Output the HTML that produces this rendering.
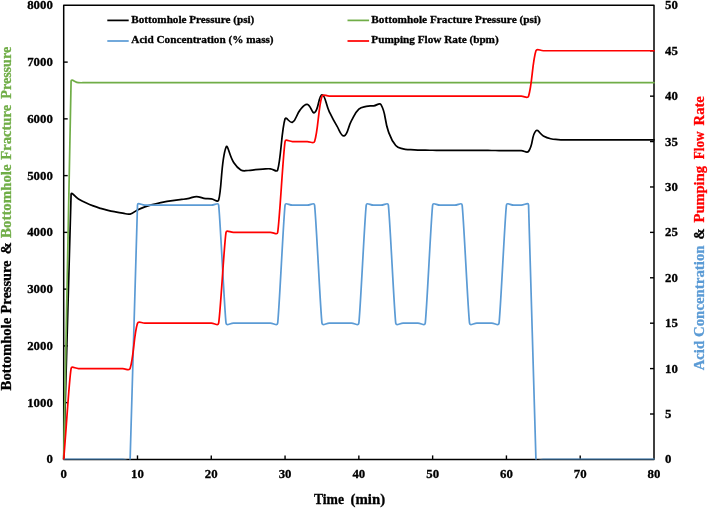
<!DOCTYPE html>
<html lang="en"><head><meta charset="utf-8"><title>Bottomhole Pressure Chart</title>
<style>html,body{margin:0;padding:0;background:#fff;}body{width:708px;height:508px;overflow:hidden;}svg{display:block;}text{font-family:'Liberation Serif', serif;font-weight:bold;fill:#000;stroke:#000;stroke-width:0.3px;}</style></head><body>
<svg width="708" height="508" viewBox="0 0 708 508">
<rect x="0" y="0" width="708" height="508" fill="#fff"/>
<g stroke="#000" stroke-width="1.50" fill="none" stroke-linejoin="round">
<rect x="63.70" y="5.35" width="590.30" height="454.05"/>
</g>
<g stroke="#000" stroke-width="1.4" fill="none">
<line x1="63.70" y1="402.64" x2="67.70" y2="402.64"/>
<line x1="63.70" y1="345.89" x2="67.70" y2="345.89"/>
<line x1="63.70" y1="289.13" x2="67.70" y2="289.13"/>
<line x1="63.70" y1="232.38" x2="67.70" y2="232.38"/>
<line x1="63.70" y1="175.62" x2="67.70" y2="175.62"/>
<line x1="63.70" y1="118.86" x2="67.70" y2="118.86"/>
<line x1="63.70" y1="62.11" x2="67.70" y2="62.11"/>
<line x1="650.00" y1="414.00" x2="654.00" y2="414.00"/>
<line x1="650.00" y1="368.59" x2="654.00" y2="368.59"/>
<line x1="650.00" y1="323.19" x2="654.00" y2="323.19"/>
<line x1="650.00" y1="277.78" x2="654.00" y2="277.78"/>
<line x1="650.00" y1="232.38" x2="654.00" y2="232.38"/>
<line x1="650.00" y1="186.97" x2="654.00" y2="186.97"/>
<line x1="650.00" y1="141.56" x2="654.00" y2="141.56"/>
<line x1="650.00" y1="96.16" x2="654.00" y2="96.16"/>
<line x1="650.00" y1="50.76" x2="654.00" y2="50.76"/>
<line x1="137.49" y1="455.40" x2="137.49" y2="459.40"/>
<line x1="211.27" y1="455.40" x2="211.27" y2="459.40"/>
<line x1="285.06" y1="455.40" x2="285.06" y2="459.40"/>
<line x1="358.85" y1="455.40" x2="358.85" y2="459.40"/>
<line x1="432.64" y1="455.40" x2="432.64" y2="459.40"/>
<line x1="506.43" y1="455.40" x2="506.43" y2="459.40"/>
<line x1="580.21" y1="455.40" x2="580.21" y2="459.40"/>
</g>
<defs><clipPath id="plotclip"><rect x="60.70" y="2.35" width="596.30" height="457.20"/></clipPath></defs>
<g fill="none" stroke-width="1.72" stroke-linejoin="round" stroke-linecap="round" clip-path="url(#plotclip)">
<path stroke="#000000" d="M63.70,459.40C67.02,340.18 70.24,209.30 71.08,194.46C71.29,190.75 75.07,197.08 78.46,199.00C81.71,200.84 82.46,201.22 85.84,202.80C89.10,204.34 89.84,204.66 93.22,205.93C96.48,207.16 97.25,207.36 100.59,208.37C103.89,209.35 104.63,209.56 107.97,210.35C111.27,211.14 112.02,211.26 115.35,211.89C118.66,212.51 119.40,212.65 122.73,213.13C126.04,213.62 127.00,214.71 130.11,214.04C133.64,213.28 134.08,211.62 137.49,209.96C140.72,208.38 141.48,208.07 144.87,206.83C148.13,205.64 148.89,205.47 152.25,204.56C155.53,203.68 156.29,203.57 159.62,202.86C162.93,202.16 163.67,202.02 167.00,201.44C170.31,200.87 171.05,200.76 174.38,200.31C177.69,199.86 178.45,199.90 181.76,199.46C185.09,199.01 185.84,198.96 189.14,198.32C192.48,197.68 193.20,196.62 196.52,196.62C199.84,196.62 200.54,197.80 203.90,198.32C207.18,198.83 207.97,198.51 211.27,198.89C214.61,199.27 217.84,202.88 218.65,200.02C221.92,188.60 220.96,160.31 226.03,147.24C227.60,143.20 229.40,155.83 233.41,162.00C236.04,166.05 236.84,167.67 240.79,169.94C243.48,171.50 244.85,170.57 248.17,170.51C251.50,170.45 252.22,169.98 255.55,169.66C258.86,169.34 259.60,169.28 262.93,169.09C266.24,168.90 267.00,168.62 270.30,168.81C273.64,169.00 276.84,172.78 277.68,169.94C281.04,158.58 281.45,130.54 285.06,118.86C285.97,115.94 290.00,123.67 292.44,122.27C296.65,119.84 295.86,115.15 299.82,110.35C302.50,107.10 304.13,103.92 307.20,104.39C310.77,104.94 312.16,114.20 314.58,112.62C318.80,109.86 318.57,94.94 321.96,94.74C325.21,94.55 325.74,104.24 329.33,111.77C332.38,118.16 333.03,119.64 336.71,125.67C339.67,130.50 341.27,136.87 344.09,135.89C347.91,134.57 347.77,127.25 351.47,120.57C354.41,115.24 354.66,113.25 358.85,109.21C361.30,106.86 362.80,107.17 366.23,106.38C369.44,105.64 370.30,106.19 373.61,105.81C376.94,105.42 379.58,102.23 380.99,104.67C386.22,113.73 384.16,119.69 388.36,131.35C390.80,138.08 391.34,140.29 395.74,145.54C397.98,148.21 399.65,147.98 403.12,148.94C406.29,149.82 407.18,149.37 410.50,149.62C413.82,149.88 414.56,149.94 417.88,150.08C421.20,150.21 421.94,150.18 425.26,150.22C428.58,150.26 429.32,150.24 432.64,150.25C435.96,150.27 436.70,150.27 440.02,150.28C443.34,150.30 444.07,150.30 447.39,150.31C450.72,150.33 451.45,150.33 454.77,150.34C458.09,150.36 458.83,150.36 462.15,150.37C465.47,150.39 466.21,150.39 469.53,150.40C472.85,150.42 473.59,150.42 476.91,150.43C480.23,150.45 480.97,150.45 484.29,150.46C487.61,150.48 488.35,150.48 491.67,150.49C494.99,150.51 495.73,150.51 499.05,150.52C502.37,150.54 503.10,150.54 506.43,150.56C509.75,150.57 510.48,150.57 513.80,150.59C517.12,150.60 517.87,150.44 521.18,150.62C524.51,150.80 526.88,153.64 528.56,151.38C533.52,144.72 531.23,135.73 535.94,130.78C537.87,128.75 539.79,133.99 543.32,135.89C546.43,137.56 547.27,137.87 550.70,138.73C553.91,139.53 554.75,139.32 558.08,139.58C561.39,139.83 562.13,139.80 565.45,139.86C568.77,139.93 569.51,139.86 572.83,139.86C576.15,139.86 576.89,139.86 580.21,139.86C583.53,139.86 584.27,139.86 587.59,139.86C590.91,139.86 591.65,139.86 594.97,139.86C598.29,139.86 599.03,139.86 602.35,139.86C605.67,139.86 606.41,139.86 609.73,139.86C613.05,139.86 613.79,139.86 617.11,139.86C620.43,139.86 621.16,139.86 624.49,139.86C627.81,139.86 628.54,139.86 631.86,139.86C635.18,139.86 635.92,139.86 639.24,139.86C642.56,139.86 643.30,139.86 646.62,139.86C649.94,139.86 650.68,139.86 654.00,139.86"/>
<path stroke="#70AD47" d="M63.70,459.40C67.02,289.30 70.56,94.57 71.08,81.40C71.21,78.11 75.11,82.37 78.46,82.65C81.75,82.93 82.52,82.65 85.84,82.65C89.16,82.65 89.89,82.65 93.22,82.65C96.54,82.65 97.27,82.65 100.59,82.65C103.91,82.65 104.65,82.65 107.97,82.65C111.29,82.65 112.03,82.65 115.35,82.65C118.67,82.65 119.41,82.65 122.73,82.65C126.05,82.65 126.79,82.65 130.11,82.65C133.43,82.65 134.17,82.65 137.49,82.65C140.81,82.65 141.55,82.65 144.87,82.65C148.19,82.65 148.92,82.65 152.25,82.65C155.57,82.65 156.30,82.65 159.62,82.65C162.94,82.65 163.68,82.65 167.00,82.65C170.32,82.65 171.06,82.65 174.38,82.65C177.70,82.65 178.44,82.65 181.76,82.65C185.08,82.65 185.82,82.65 189.14,82.65C192.46,82.65 193.20,82.65 196.52,82.65C199.84,82.65 200.58,82.65 203.90,82.65C207.22,82.65 207.95,82.65 211.27,82.65C214.60,82.65 215.33,82.65 218.65,82.65C221.97,82.65 222.71,82.65 226.03,82.65C229.35,82.65 230.09,82.65 233.41,82.65C236.73,82.65 237.47,82.65 240.79,82.65C244.11,82.65 244.85,82.65 248.17,82.65C251.49,82.65 252.23,82.65 255.55,82.65C258.87,82.65 259.61,82.65 262.93,82.65C266.25,82.65 266.98,82.65 270.30,82.65C273.63,82.65 274.36,82.65 277.68,82.65C281.00,82.65 281.74,82.65 285.06,82.65C288.38,82.65 289.12,82.65 292.44,82.65C295.76,82.65 296.50,82.65 299.82,82.65C303.14,82.65 303.88,82.65 307.20,82.65C310.52,82.65 311.26,82.65 314.58,82.65C317.90,82.65 318.64,82.65 321.96,82.65C325.28,82.65 326.01,82.65 329.33,82.65C332.66,82.65 333.39,82.65 336.71,82.65C340.03,82.65 340.77,82.65 344.09,82.65C347.41,82.65 348.15,82.65 351.47,82.65C354.79,82.65 355.53,82.65 358.85,82.65C362.17,82.65 362.91,82.65 366.23,82.65C369.55,82.65 370.29,82.65 373.61,82.65C376.93,82.65 377.67,82.65 380.99,82.65C384.31,82.65 385.04,82.65 388.36,82.65C391.69,82.65 392.42,82.65 395.74,82.65C399.06,82.65 399.80,82.65 403.12,82.65C406.44,82.65 407.18,82.65 410.50,82.65C413.82,82.65 414.56,82.65 417.88,82.65C421.20,82.65 421.94,82.65 425.26,82.65C428.58,82.65 429.32,82.65 432.64,82.65C435.96,82.65 436.70,82.65 440.02,82.65C443.34,82.65 444.07,82.65 447.39,82.65C450.72,82.65 451.45,82.65 454.77,82.65C458.09,82.65 458.83,82.65 462.15,82.65C465.47,82.65 466.21,82.65 469.53,82.65C472.85,82.65 473.59,82.65 476.91,82.65C480.23,82.65 480.97,82.65 484.29,82.65C487.61,82.65 488.35,82.65 491.67,82.65C494.99,82.65 495.73,82.65 499.05,82.65C502.37,82.65 503.10,82.65 506.43,82.65C509.75,82.65 510.48,82.65 513.80,82.65C517.12,82.65 517.86,82.65 521.18,82.65C524.50,82.65 525.24,82.65 528.56,82.65C531.88,82.65 532.62,82.65 535.94,82.65C539.26,82.65 540.00,82.65 543.32,82.65C546.64,82.65 547.38,82.65 550.70,82.65C554.02,82.65 554.76,82.65 558.08,82.65C561.40,82.65 562.13,82.65 565.45,82.65C568.78,82.65 569.51,82.65 572.83,82.65C576.15,82.65 576.89,82.65 580.21,82.65C583.53,82.65 584.27,82.65 587.59,82.65C590.91,82.65 591.65,82.65 594.97,82.65C598.29,82.65 599.03,82.65 602.35,82.65C605.67,82.65 606.41,82.65 609.73,82.65C613.05,82.65 613.79,82.65 617.11,82.65C620.43,82.65 621.16,82.65 624.49,82.65C627.81,82.65 628.54,82.65 631.86,82.65C635.18,82.65 635.92,82.65 639.24,82.65C642.56,82.65 643.30,82.65 646.62,82.65C649.94,82.65 650.68,82.65 654.00,82.65"/>
<path stroke="#5B9BD5" d="M63.70,459.40C67.02,459.40 67.76,459.40 71.08,459.40C74.40,459.40 75.14,459.40 78.46,459.40C81.78,459.40 82.52,459.40 85.84,459.40C89.16,459.40 89.89,459.40 93.22,459.40C96.54,459.40 97.27,459.40 100.59,459.40C103.91,459.40 104.65,459.40 107.97,459.40C111.29,459.40 112.03,459.40 115.35,459.40C118.67,459.40 119.41,459.40 122.73,459.40C126.05,459.40 129.92,462.63 130.11,459.40C130.86,446.50 136.74,218.03 137.49,205.13C137.67,201.91 141.55,205.13 144.87,205.13C148.19,205.13 148.92,205.13 152.25,205.13C155.57,205.13 156.30,205.13 159.62,205.13C162.94,205.13 163.68,205.13 167.00,205.13C170.32,205.13 171.06,205.13 174.38,205.13C177.70,205.13 178.44,205.13 181.76,205.13C185.08,205.13 185.82,205.13 189.14,205.13C192.46,205.13 193.20,205.13 196.52,205.13C199.84,205.13 200.58,205.13 203.90,205.13C207.22,205.13 207.95,205.13 211.27,205.13C214.60,205.13 218.26,202.01 218.65,205.13C220.21,217.61 224.47,310.71 226.03,323.19C226.42,326.30 230.09,323.19 233.41,323.19C236.73,323.19 237.47,323.19 240.79,323.19C244.11,323.19 244.85,323.19 248.17,323.19C251.49,323.19 252.23,323.19 255.55,323.19C258.87,323.19 259.61,323.19 262.93,323.19C266.25,323.19 266.98,323.19 270.30,323.19C273.63,323.19 277.29,326.30 277.68,323.19C279.24,310.71 283.50,217.61 285.06,205.13C285.45,202.01 289.12,205.13 292.44,205.13C295.76,205.13 296.50,205.13 299.82,205.13C303.14,205.13 303.88,205.13 307.20,205.13C310.52,205.13 314.19,202.01 314.58,205.13C316.14,217.61 320.40,310.71 321.96,323.19C322.35,326.30 326.01,323.19 329.33,323.19C332.66,323.19 333.39,323.19 336.71,323.19C340.03,323.19 340.77,323.19 344.09,323.19C347.41,323.19 348.15,323.19 351.47,323.19C354.79,323.19 358.46,326.30 358.85,323.19C360.41,310.71 364.67,217.61 366.23,205.13C366.62,202.01 370.29,205.13 373.61,205.13C376.93,205.13 377.67,205.13 380.99,205.13C384.31,205.13 387.98,202.01 388.36,205.13C389.92,217.61 394.18,310.71 395.74,323.19C396.13,326.30 399.80,323.19 403.12,323.19C406.44,323.19 407.18,323.19 410.50,323.19C413.82,323.19 414.56,323.19 417.88,323.19C421.20,323.19 424.87,326.30 425.26,323.19C426.82,310.71 431.08,217.61 432.64,205.13C433.03,202.01 436.70,205.13 440.02,205.13C443.34,205.13 444.07,205.13 447.39,205.13C450.72,205.13 451.45,205.13 454.77,205.13C458.09,205.13 461.76,202.01 462.15,205.13C463.71,217.61 467.97,310.71 469.53,323.19C469.92,326.30 473.59,323.19 476.91,323.19C480.23,323.19 480.97,323.19 484.29,323.19C487.61,323.19 488.35,323.19 491.67,323.19C494.99,323.19 498.66,326.30 499.05,323.19C500.61,310.71 504.87,217.61 506.43,205.13C506.81,202.01 510.48,205.13 513.80,205.13C517.12,205.13 517.86,205.13 521.18,205.13C524.50,205.13 528.37,201.91 528.56,205.13C529.31,218.03 535.19,446.50 535.94,459.40C536.13,462.63 540.00,459.40 543.32,459.40C546.64,459.40 547.38,459.40 550.70,459.40C554.02,459.40 554.76,459.40 558.08,459.40C561.40,459.40 562.13,459.40 565.45,459.40C568.78,459.40 569.51,459.40 572.83,459.40C576.15,459.40 576.89,459.40 580.21,459.40C583.53,459.40 584.27,459.40 587.59,459.40C590.91,459.40 591.65,459.40 594.97,459.40C598.29,459.40 599.03,459.40 602.35,459.40C605.67,459.40 606.41,459.40 609.73,459.40C613.05,459.40 613.79,459.40 617.11,459.40C620.43,459.40 621.16,459.40 624.49,459.40C627.81,459.40 628.54,459.40 631.86,459.40C635.18,459.40 635.92,459.40 639.24,459.40C642.56,459.40 643.30,459.40 646.62,459.40C649.94,459.40 650.68,459.40 654.00,459.40"/>
<path stroke="#FF0000" d="M63.70,459.40C67.02,418.54 69.09,380.84 71.08,368.59C71.58,365.53 75.14,368.59 78.46,368.59C81.78,368.59 82.52,368.59 85.84,368.59C89.16,368.59 89.89,368.59 93.22,368.59C96.54,368.59 97.27,368.59 100.59,368.59C103.91,368.59 104.65,368.59 107.97,368.59C111.29,368.59 112.03,368.59 115.35,368.59C118.67,368.59 119.41,368.59 122.73,368.59C126.05,368.59 129.19,371.41 130.11,368.59C133.78,357.29 133.82,334.48 137.49,323.19C138.41,320.36 141.55,323.19 144.87,323.19C148.19,323.19 148.92,323.19 152.25,323.19C155.57,323.19 156.30,323.19 159.62,323.19C162.94,323.19 163.68,323.19 167.00,323.19C170.32,323.19 171.06,323.19 174.38,323.19C177.70,323.19 178.44,323.19 181.76,323.19C185.08,323.19 185.82,323.19 189.14,323.19C192.46,323.19 193.20,323.19 196.52,323.19C199.84,323.19 200.58,323.19 203.90,323.19C207.22,323.19 207.95,323.19 211.27,323.19C214.60,323.19 218.16,326.25 218.65,323.19C220.64,310.94 224.04,244.62 226.03,232.38C226.53,229.31 230.09,232.38 233.41,232.38C236.73,232.38 237.47,232.38 240.79,232.38C244.11,232.38 244.85,232.38 248.17,232.38C251.49,232.38 252.23,232.38 255.55,232.38C258.87,232.38 259.61,232.38 262.93,232.38C266.25,232.38 266.98,232.38 270.30,232.38C273.63,232.38 277.19,235.44 277.68,232.38C279.67,220.13 283.07,153.81 285.06,141.56C285.56,138.50 289.12,141.56 292.44,141.56C295.76,141.56 296.50,141.56 299.82,141.56C303.14,141.56 303.88,141.56 307.20,141.56C310.52,141.56 313.66,144.39 314.58,141.56C318.25,130.27 318.28,107.46 321.96,96.16C322.87,93.34 326.01,96.16 329.33,96.16C332.66,96.16 333.39,96.16 336.71,96.16C340.03,96.16 340.77,96.16 344.09,96.16C347.41,96.16 348.15,96.16 351.47,96.16C354.79,96.16 355.53,96.16 358.85,96.16C362.17,96.16 362.91,96.16 366.23,96.16C369.55,96.16 370.29,96.16 373.61,96.16C376.93,96.16 377.67,96.16 380.99,96.16C384.31,96.16 385.04,96.16 388.36,96.16C391.69,96.16 392.42,96.16 395.74,96.16C399.06,96.16 399.80,96.16 403.12,96.16C406.44,96.16 407.18,96.16 410.50,96.16C413.82,96.16 414.56,96.16 417.88,96.16C421.20,96.16 421.94,96.16 425.26,96.16C428.58,96.16 429.32,96.16 432.64,96.16C435.96,96.16 436.70,96.16 440.02,96.16C443.34,96.16 444.07,96.16 447.39,96.16C450.72,96.16 451.45,96.16 454.77,96.16C458.09,96.16 458.83,96.16 462.15,96.16C465.47,96.16 466.21,96.16 469.53,96.16C472.85,96.16 473.59,96.16 476.91,96.16C480.23,96.16 480.97,96.16 484.29,96.16C487.61,96.16 488.35,96.16 491.67,96.16C494.99,96.16 495.73,96.16 499.05,96.16C502.37,96.16 503.10,96.16 506.43,96.16C509.75,96.16 510.48,96.16 513.80,96.16C517.12,96.16 517.86,96.16 521.18,96.16C524.50,96.16 527.64,98.98 528.56,96.16C532.23,84.86 532.27,62.05 535.94,50.76C536.86,47.93 540.00,50.76 543.32,50.76C546.64,50.76 547.38,50.76 550.70,50.76C554.02,50.76 554.76,50.76 558.08,50.76C561.40,50.76 562.13,50.76 565.45,50.76C568.78,50.76 569.51,50.76 572.83,50.76C576.15,50.76 576.89,50.76 580.21,50.76C583.53,50.76 584.27,50.76 587.59,50.76C590.91,50.76 591.65,50.76 594.97,50.76C598.29,50.76 599.03,50.76 602.35,50.76C605.67,50.76 606.41,50.76 609.73,50.76C613.05,50.76 613.79,50.76 617.11,50.76C620.43,50.76 621.16,50.76 624.49,50.76C627.81,50.76 628.54,50.76 631.86,50.76C635.18,50.76 635.92,50.76 639.24,50.76C642.56,50.76 643.30,50.76 646.62,50.76C649.94,50.76 650.68,50.76 654.00,50.76"/>
</g>
<g font-size="12.80">
<text x="52.8" y="463.40" text-anchor="end">0</text>
<text x="52.8" y="406.64" text-anchor="end">1000</text>
<text x="52.8" y="349.89" text-anchor="end">2000</text>
<text x="52.8" y="293.13" text-anchor="end">3000</text>
<text x="52.8" y="236.38" text-anchor="end">4000</text>
<text x="52.8" y="179.62" text-anchor="end">5000</text>
<text x="52.8" y="122.86" text-anchor="end">6000</text>
<text x="52.8" y="66.11" text-anchor="end">7000</text>
<text x="52.8" y="9.35" text-anchor="end">8000</text>
<text x="665" y="463.40" text-anchor="start">0</text>
<text x="665" y="418.00" text-anchor="start">5</text>
<text x="665" y="372.59" text-anchor="start">10</text>
<text x="665" y="327.19" text-anchor="start">15</text>
<text x="665" y="281.78" text-anchor="start">20</text>
<text x="665" y="236.38" text-anchor="start">25</text>
<text x="665" y="190.97" text-anchor="start">30</text>
<text x="665" y="145.56" text-anchor="start">35</text>
<text x="665" y="100.16" text-anchor="start">40</text>
<text x="665" y="54.76" text-anchor="start">45</text>
<text x="665" y="9.35" text-anchor="start">50</text>
<text x="63.70" y="477.7" text-anchor="middle">0</text>
<text x="137.49" y="477.7" text-anchor="middle">10</text>
<text x="211.27" y="477.7" text-anchor="middle">20</text>
<text x="285.06" y="477.7" text-anchor="middle">30</text>
<text x="358.85" y="477.7" text-anchor="middle">40</text>
<text x="432.64" y="477.7" text-anchor="middle">50</text>
<text x="506.43" y="477.7" text-anchor="middle">60</text>
<text x="580.21" y="477.7" text-anchor="middle">70</text>
<text x="654.00" y="477.7" text-anchor="middle">80</text>
</g>
<g stroke-width="1.72" fill="none">
<line x1="107.3" y1="20.4" x2="128.7" y2="20.4" stroke="#000"/>
<line x1="107.3" y1="41.0" x2="128.7" y2="41.0" stroke="#5B9BD5"/>
<line x1="347.5" y1="20.4" x2="369.1" y2="20.4" stroke="#70AD47"/>
<line x1="347.5" y1="41.0" x2="369.1" y2="41.0" stroke="#FF0000"/>
</g>
<g font-size="11.20">
<text x="131.3" y="22.9" textLength="123" lengthAdjust="spacingAndGlyphs">Bottomhole Pressure (psi)</text>
<text x="131.3" y="43.4" textLength="142.3" lengthAdjust="spacingAndGlyphs">Acid Concentration (% mass)</text>
<text x="371.3" y="22.9" textLength="169.5" lengthAdjust="spacingAndGlyphs">Bottomhole Fracture Pressure (psi)</text>
<text x="371.3" y="43.4" textLength="127.4" lengthAdjust="spacingAndGlyphs">Pumping Flow Rate (bpm)</text>
</g>
<text y="503.6" font-size="14.60"><tspan x="313.9" textLength="30.1" lengthAdjust="spacingAndGlyphs">Time</tspan> <tspan x="350.5" textLength="34.6" lengthAdjust="spacingAndGlyphs">(min)</tspan></text>
<text transform="translate(10.90,390.41) rotate(-90)" font-size="14.60" fill="#000" style="fill:#000;stroke:#000" textLength="72.77" lengthAdjust="spacingAndGlyphs">Bottomhole</text>
<text transform="translate(10.90,313.41) rotate(-90)" font-size="14.60" fill="#000" style="fill:#000;stroke:#000" textLength="52.86" lengthAdjust="spacingAndGlyphs">Pressure</text>
<text transform="translate(10.90,254.31) rotate(-90)" font-size="14.60" fill="#000" style="fill:#000;stroke:#000" textLength="12.19" lengthAdjust="spacingAndGlyphs">&amp;</text>
<text transform="translate(10.90,237.89) rotate(-90)" font-size="14.60" fill="#70AD47" style="fill:#70AD47;stroke:#70AD47" textLength="73.49" lengthAdjust="spacingAndGlyphs">Bottomhole</text>
<text transform="translate(10.90,159.72) rotate(-90)" font-size="14.60" fill="#70AD47" style="fill:#70AD47;stroke:#70AD47" textLength="54.89" lengthAdjust="spacingAndGlyphs">Fracture</text>
<text transform="translate(10.90,98.72) rotate(-90)" font-size="14.60" fill="#70AD47" style="fill:#70AD47;stroke:#70AD47" textLength="51.91" lengthAdjust="spacingAndGlyphs">Pressure</text>
<text transform="translate(703.90,370.32) rotate(-90)" font-size="14.60" fill="#5B9BD5" style="fill:#5B9BD5;stroke:#5B9BD5" textLength="29.48" lengthAdjust="spacingAndGlyphs">Acid</text>
<text transform="translate(703.90,337.05) rotate(-90)" font-size="14.60" fill="#5B9BD5" style="fill:#5B9BD5;stroke:#5B9BD5" textLength="91.66" lengthAdjust="spacingAndGlyphs">Concentration</text>
<text transform="translate(703.90,239.58) rotate(-90)" font-size="14.60" fill="#000" style="fill:#000;stroke:#000" textLength="11.23" lengthAdjust="spacingAndGlyphs">&amp;</text>
<text transform="translate(703.90,222.42) rotate(-90)" font-size="14.60" fill="#FF0000" style="fill:#FF0000;stroke:#FF0000" textLength="56.37" lengthAdjust="spacingAndGlyphs">Pumping</text>
<text transform="translate(703.90,159.36) rotate(-90)" font-size="14.60" fill="#FF0000" style="fill:#FF0000;stroke:#FF0000" textLength="27.98" lengthAdjust="spacingAndGlyphs">Flow</text>
<text transform="translate(703.90,125.44) rotate(-90)" font-size="14.60" fill="#FF0000" style="fill:#FF0000;stroke:#FF0000" textLength="29.31" lengthAdjust="spacingAndGlyphs">Rate</text>
</svg></body></html>
